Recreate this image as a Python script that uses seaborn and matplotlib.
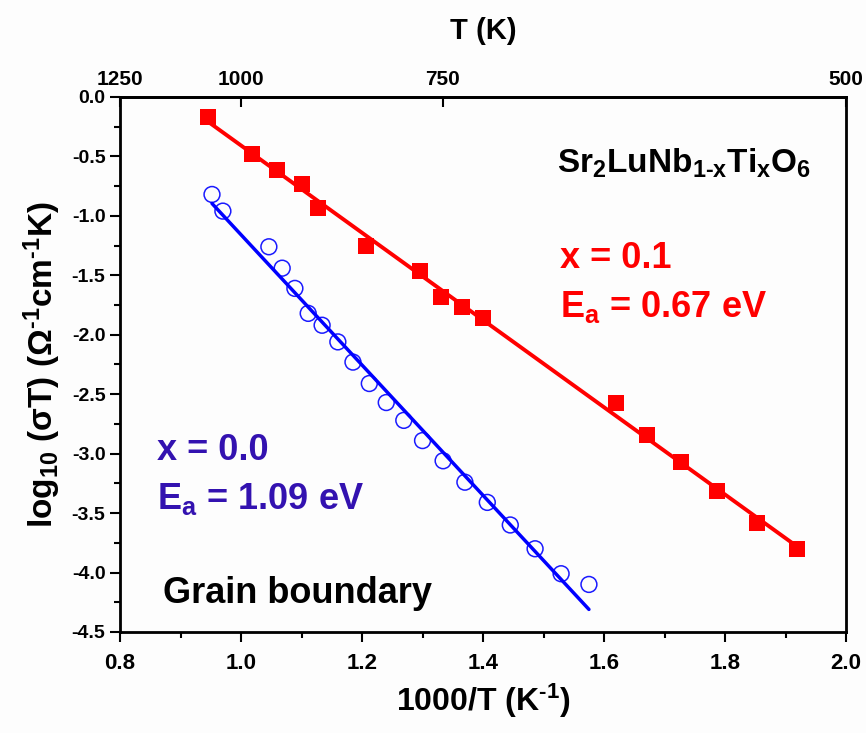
import numpy as np
import pandas as pd
import seaborn as sns
import matplotlib
matplotlib.use("Agg")
import matplotlib.pyplot as plt
from matplotlib.ticker import MultipleLocator, FormatStrFormatter

# veriler
x_gb = [0.952, 0.970, 1.046, 1.068, 1.089, 1.111, 1.134, 1.160, 1.185, 1.212,
        1.240, 1.269, 1.300, 1.334, 1.370, 1.407, 1.445, 1.486, 1.529, 1.575]
y_gb = [-0.82, -0.96, -1.26, -1.44, -1.61, -1.82, -1.92, -2.06, -2.23, -2.41,
        -2.57, -2.72, -2.89, -3.06, -3.24, -3.41, -3.60, -3.80, -4.01, -4.10]

x_ti = [0.945, 1.018, 1.060, 1.100, 1.127, 1.207, 1.296, 1.330, 1.365, 1.400,
        1.620, 1.671, 1.727, 1.787, 1.853, 1.919]
y_ti = [-0.17, -0.48, -0.61, -0.73, -0.93, -1.25, -1.46, -1.68, -1.77, -1.86,
        -2.57, -2.84, -3.07, -3.31, -3.58, -3.80]

top_T = [1250, 1000, 750, 500]

sns.set_style("ticks")
plt.rcParams["font.family"] = ["Liberation Sans", "DejaVu Sans"]
plt.rcParams["font.weight"] = "bold"
plt.rcParams["axes.labelweight"] = "bold"
for key in ["text.color", "axes.labelcolor", "xtick.color", "ytick.color", "axes.edgecolor"]:
    plt.rcParams[key] = "black"
plt.rcParams["mathtext.fontset"] = "custom"
plt.rcParams["mathtext.rm"] = "Liberation Sans:bold"
plt.rcParams["mathtext.bf"] = "Liberation Sans:bold"
plt.rcParams["mathtext.it"] = "Liberation Sans:bold"
plt.rcParams["mathtext.sf"] = "Liberation Sans:bold"

fig = plt.figure(figsize=(8.66, 7.33), dpi=100, facecolor="#fdfdfd")
ax = fig.add_axes([0.1386, 0.1378, 0.8384, 0.7299])
ax.set_facecolor("#fdfdfd")

df_gb = pd.DataFrame({"x": x_gb, "y": y_gb})
df_ti = pd.DataFrame({"x": x_ti, "y": y_ti})

sns.regplot(data=df_ti, x="x", y="y", ax=ax, ci=None, truncate=True, marker="s",
            scatter_kws={"s": 125, "color": "#ff0000", "linewidths": 0, "alpha": 1},
            line_kws={"color": "#ff0000", "lw": 2.8})
sns.regplot(data=df_gb, x="x", y="y", ax=ax, ci=None, truncate=True, marker="o",
            scatter_kws={"s": 130, "facecolors": "none", "edgecolors": "#1a1aff",
                         "linewidths": 1.1, "alpha": 1},
            line_kws={"color": "#0000ff", "lw": 2.5})

ax.set_xlim(0.8, 2.0)
ax.set_ylim(-4.5, 0.0)
ax.xaxis.set_major_locator(MultipleLocator(0.2))
ax.xaxis.set_minor_locator(MultipleLocator(0.1))
ax.yaxis.set_major_locator(MultipleLocator(0.5))
ax.yaxis.set_minor_locator(MultipleLocator(0.25))
ax.xaxis.set_major_formatter(FormatStrFormatter("%.1f"))
ax.yaxis.set_major_formatter(FormatStrFormatter("%.1f"))
ax.tick_params(axis="x", which="major", direction="out", length=7, width=1.5, labelsize=16, pad=8)
ax.tick_params(axis="x", which="minor", direction="out", length=4, width=1.5)
ax.tick_params(axis="y", which="major", direction="out", length=7, width=1.5, labelsize=14)
ax.tick_params(axis="y", which="minor", direction="out", length=4, width=1.5)
for s in ax.spines.values():
    s.set_linewidth(2)
    s.set_visible(True)

ax.set_xlabel(r"1000/T (K$^{\text{-}1}$)", fontsize=23, labelpad=6)
ax.set_ylabel(r"log$_{10}$ ($\sigma$T) ($\Omega^{\text{-}1}$cm$^{\text{-}1}$K)",
              fontsize=24, labelpad=6)

# üst eksen: sıcaklık (K)
top = ax.twiny()
top.set_xlim(ax.get_xlim())
top.set_xticks([1000 / t for t in top_T])
top.set_xticklabels([str(t) for t in top_T])
top.tick_params(axis="x", direction="in", length=7, width=1.5, labelsize=15, pad=6)
top.spines["top"].set_linewidth(2)
top.set_xlabel("T (K)", fontsize=21, labelpad=22)

ax.text(1.522, -0.64, r"Sr$_2$LuNb$_{1\text{-}x}$Ti$_x$O$_6$", fontsize=24, ha="left", va="baseline")
ax.text(1.527, -1.44, "x = 0.1", fontsize=26, color="#ff0000", ha="left", va="baseline")
ax.text(1.527, -1.85, r"E$_a$ = 0.67 eV", fontsize=26, color="#ff0000", ha="left", va="baseline")
ax.text(0.861, -3.05, "x = 0.0", fontsize=26, color="#3312b0", ha="left", va="baseline")
ax.text(0.861, -3.465, r"E$_a$ = 1.09 eV", fontsize=26, color="#3312b0", ha="left", va="baseline")
ax.text(0.871, -4.26, "Grain boundary", fontsize=26, color="black", ha="left", va="baseline")

fig.savefig("out.png", dpi=100, facecolor=fig.get_facecolor())
